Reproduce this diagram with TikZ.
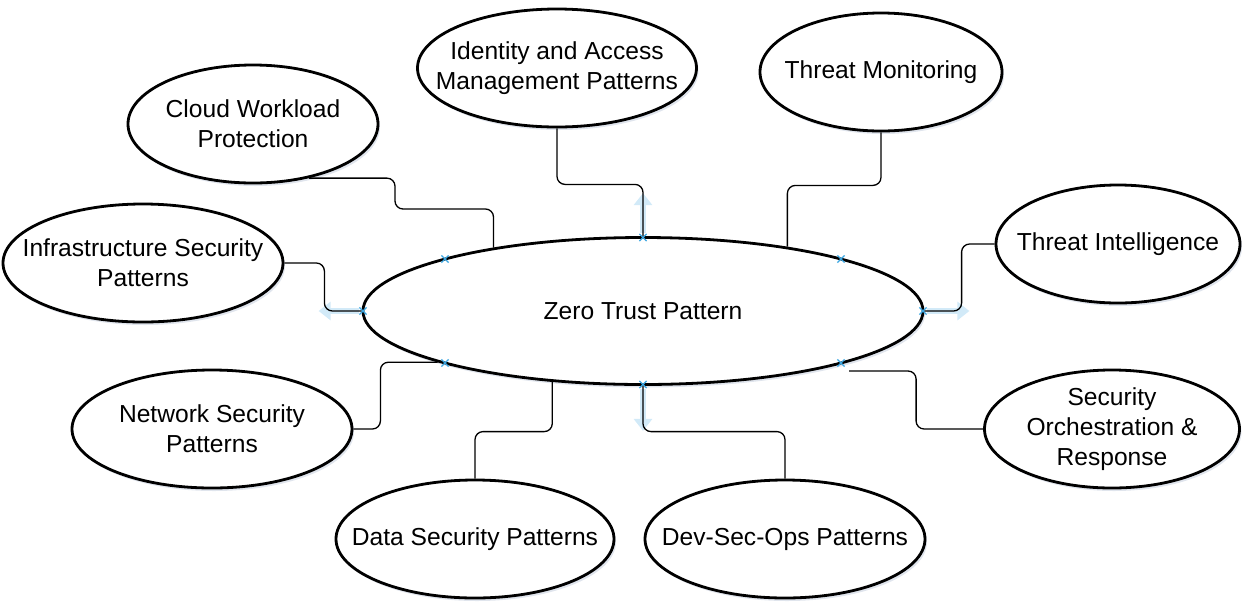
\documentclass[tikz,border=0pt]{standalone}
\usepackage{fontspec}
\setmainfont{Liberation Sans}
\usetikzlibrary{shapes.geometric, shapes.misc, arrows.meta, shadows, calc}

\definecolor{hoverblue}{HTML}{D2EAF8}
\definecolor{markblue}{HTML}{3AA6E2}
\definecolor{shadowblue}{HTML}{9AA8C4}

\begin{document}
\begin{tikzpicture}[x=0.5pt, y=-0.5pt]

    % Define styles
    \tikzset{
        topic/.style={ellipse, draw=black, line width=1.4pt, fill=white, align=center,
            inner xsep=-65pt, inner ysep=-30pt,
            minimum height=59pt, font=\fontsize{12.3}{15}\selectfont,
            drop shadow={shadow xshift=1pt, shadow yshift=-1.5pt, opacity=0.3, fill=shadowblue}},
        hub/.style={topic, minimum width=280pt, minimum height=73.5pt},
        link/.style={black, line width=0.65pt, rounded corners=4pt},
        hover/.style={hoverblue, line width=3pt, -{Triangle[width=9pt, length=6pt]}},
        pin/.style={cross out, draw=markblue, line width=0.6pt, minimum size=3pt, inner sep=0pt}
    }

    \useasboundingbox (0,0) rectangle (1249,612);

    % 1. Central pattern
    \node[hub] (zero) at (643,311) {Zero Trust Pattern};

    % 2. Surrounding patterns
    \node[topic, minimum width=125pt] (cloud) at (253,124) {Cloud Workload\\Protection};
    \node[topic, minimum width=139.5pt] (iam) at (557,68) {Identity and Access\\Management Patterns};
    \node[topic, minimum width=121pt] (tmon) at (881,72) {Threat Monitoring};
    \node[topic, minimum width=122pt] (tint) at (1118,244) {Threat Intelligence};
    \node[topic, minimum width=140pt] (infra) at (143,263) {Infrastructure Security\\Patterns};
    \node[topic, minimum width=140pt] (net) at (212,429) {Network Security\\Patterns};
    \node[topic, minimum width=139pt] (data) at (475,539) {Data Security Patterns};
    \node[topic, minimum width=140pt] (dev) at (785,539) {Dev-Sec-Ops Patterns};
    \node[topic, minimum width=127.5pt] (soar) at (1112,429) {Security\\Orchestration \&\\Response};

    % 3. Hover arrows (faint)
    \draw[hover] ([yshift=1.5pt]zero.north) -- ++(0,-40);
    \draw[hover] ([xshift=-1.5pt]zero.west) -- ++(-40,0);
    \draw[hover] ([xshift=1.5pt]zero.east) -- ++(42,0);
    \draw[hover] ([yshift=-1.5pt]zero.south) -- ++(0,42);

    % 4. Connectors
    \draw[link] (cloud.-44) -| (395,209) -| (zero.157.5);
    \draw[link] (iam.south) -- ++(0,56) -| (zero.north);
    \draw[link] (tmon.south) -- ++(0,53) -| (zero.24);
    \draw[link] (tint.west) -- ++(-33,0) |- (zero.east);
    \draw[link] (infra.east) -- ++(40,0) |- (zero.west);
    \draw[link] (net.east) -- ++(27,0) |- (zero.-166.8);
    \draw[link] (data.north) -- ++(0,-47) -| (zero.-142.6);
    \draw[link] (dev.north) -- ++(0,-47) -| (zero.south);
    \coordinate (soarend) at (849,371);
    \draw[link] (soar.west) -- ++(-67,0) |- (soarend);

    % 5. Connection points
    \foreach \a in {0,45,...,315}
        \node[pin] (pin\a) at ($(zero.center)+({280*cos(\a)},{-73.5*sin(\a)})$) {};

\end{tikzpicture}
\end{document}
